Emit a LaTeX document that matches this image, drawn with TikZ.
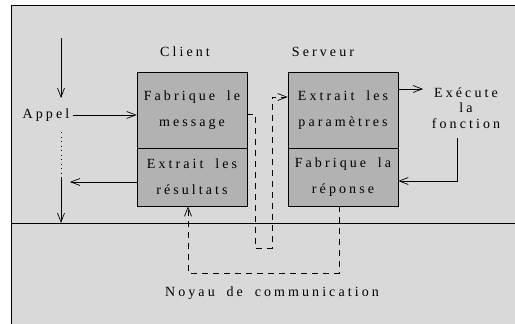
\documentclass[tikz,border=0pt]{standalone}
\usepackage{fontspec}
\setmainfont{Liberation Serif}[LetterSpace=22,WordSpace=1.8]
\usetikzlibrary{arrows.meta}
\definecolor{fond}{gray}{0.85}
\definecolor{boite}{gray}{0.70}

\begin{document}
\begin{tikzpicture}[x=1pt,y=-1pt,line width=0.7pt,
        >={Straight Barb[length=9pt,width=7pt]},
        box/.style={draw, fill=boite, minimum width=110pt, inner sep=0pt,
            font=\fontsize{14}{26}\selectfont, align=center},
        lbl/.style={font=\fontsize{14}{15.5}\selectfont, align=center},
        tir/.style={dash pattern=on 6pt off 5pt}]

    \useasboundingbox (0,0) rectangle (515,324);
    \fill[fond] (11,5) rectangle (515,324);
    \draw (11,324) -- (11,5) -- (515,5);
    \draw (11,223) -- (515,223);

    % boites client et serveur
    \node[box, minimum height=76pt] (cf) at (192,110) {Fabrique le\\message};
    \node[box, minimum height=58pt] (ce) at (192,177) {Extrait les\\résultats};
    \node[box, minimum height=76pt] (sx) at (343,110) {Extrait les\\paramètres};
    \node[box, minimum height=58pt] (sf) at (343,177) {Fabrique la\\réponse};

    \node[lbl] (client) at (185,52) {Client};
    \node[lbl] (serveur) at (323,52) {Serveur};
    \node[lbl] (appel) at (46,115) {Appel};
    \node[lbl] (exec) at (466,108) {Exécute\\la\hspace{30pt}\\fonction};
    \node[lbl] (noyau) at (272,293) {Noyau de communication};

    \coordinate (haut) at (61,38);
    \coordinate (haut2) at (61,98);
    \coordinate (pt1) at (61,132);
    \coordinate (pt2) at (61,178);
    \coordinate (bas) at (61,223);
    \coordinate (retour) at (70,182);
    \coordinate (fin) at (423,89);
    \coordinate (fonc) at (457,138);

    % appel local
    \draw[->] (haut) -- (haut2);
    \draw[->] (appel.east) -- (appel.east -| cf.west);
    \draw[dash pattern=on 1pt off 3.5pt] (pt1) -- (pt2);
    \draw[->] (pt2) -- (bas);
    \draw[->] ([yshift=-5pt]ce.west) -- (retour);

    % serveur
    \draw[->] ([yshift=21pt]sx.east) -- (fin);
    \draw[->] (fonc) |- ([yshift=-4pt]sf.east);

    % noyau
    \draw[tir,->] ([yshift=-4pt]cf.east) -- (255,114) -- (255,248) -- (272,248)
        -- (272,97) -- ([yshift=13pt]sx.west);
    \draw[tir,->] ([xshift=-4pt]sf.south) -- ++(0,67) -| ([xshift=-4pt]ce.south);

\end{tikzpicture}
\end{document}
